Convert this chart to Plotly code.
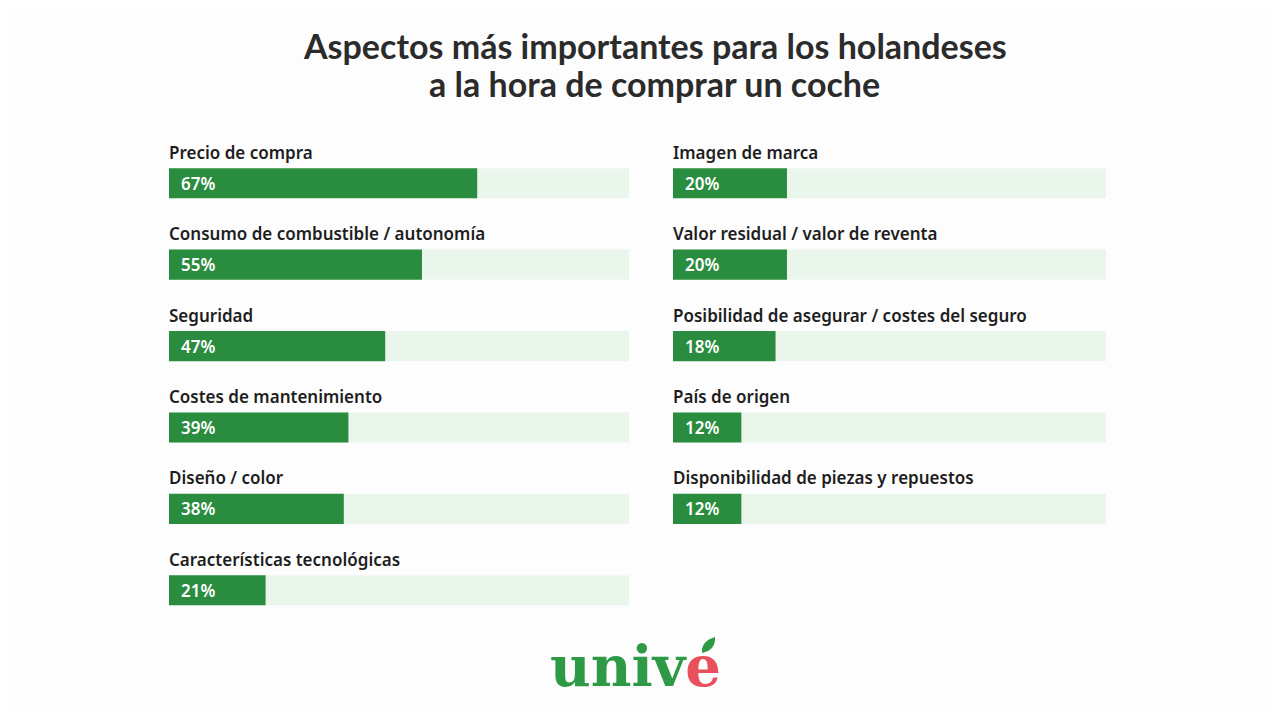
import plotly.graph_objects as go

# left column
left_labels = ["Precio de compra", "Consumo de combustible / autonomía", "Seguridad",
               "Costes de mantenimiento", "Diseño / color", "Características tecnológicas"]
left_values = [67, 55, 47, 39, 38, 21]

# right column
right_labels = ["Imagen de marca", "Valor residual / valor de reventa",
                "Posibilidad de asegurar / costes del seguro", "País de origen",
                "Disponibilidad de piezas y repuestos"]
right_values = [20, 20, 18, 12, 12]

title_lines = ["Aspectos más importantes para los holandeses", "a la hora de comprar un coche"]

GREEN = "#2a8c3f"
TRACK = "#eaf6ec"
left_max = 100
right_max = 76

# page has an 8px body margin, so the figure is a bit smaller than the window
W, H = 1264, 704
OFF = 8
T, B = 102, 81
plot_h = H - T - B


def px(screen_x):
    return (screen_x - OFF) / W


def py(screen_y):
    return (H - B - (screen_y - OFF)) / plot_h


fig = go.Figure()

left_rows = list(range(len(left_values)))
right_rows = list(range(len(right_values)))

# background tracks
fig.add_trace(go.Bar(x=[left_max] * len(left_rows), y=left_rows, orientation="h",
                     marker=dict(color=TRACK, line=dict(width=0)), width=0.37,
                     xaxis="x", yaxis="y", hoverinfo="skip", showlegend=False))
fig.add_trace(go.Bar(x=[right_max] * len(right_rows), y=right_rows, orientation="h",
                     marker=dict(color=TRACK, line=dict(width=0)), width=0.37,
                     xaxis="x2", yaxis="y", hoverinfo="skip", showlegend=False))
# values
fig.add_trace(go.Bar(x=left_values, y=left_rows, orientation="h",
                     marker=dict(color=GREEN, line=dict(width=0)), width=0.37,
                     xaxis="x", yaxis="y", showlegend=False))
fig.add_trace(go.Bar(x=right_values, y=right_rows, orientation="h",
                     marker=dict(color=GREEN, line=dict(width=0)), width=0.37,
                     xaxis="x2", yaxis="y", showlegend=False))

annotations = []
for xa, labels, values in [("x", left_labels, left_values), ("x2", right_labels, right_values)]:
    for i, (lab, v) in enumerate(zip(labels, values)):
        annotations.append(dict(x=0, y=i - 0.38, xref=xa, yref="y", text=lab, xshift=-2,
                                xanchor="left", yanchor="middle", showarrow=False,
                                font=dict(family="Noto Sans", size=17, color="#1e1e1e", weight=600)))
        annotations.append(dict(x=0, y=i, xref=xa, yref="y", text=f"{v}%", xshift=10,
                                xanchor="left", yanchor="middle", showarrow=False,
                                font=dict(family="Noto Sans", size=17, color="white", weight=600)))

for line, sy in zip(title_lines, [45, 84]):
    annotations.append(dict(x=px(655), y=py(sy), xref="paper", yref="paper", text=line,
                            showarrow=False, xanchor="center", yanchor="middle",
                            font=dict(family="Lato", size=34, color="#2b2b2b", weight="bold")))

annotations.append(dict(x=px(635), y=py(666), xref="paper", yref="paper",
                        text="<span style='color:#2f9a45'>univ</span><span style='color:#e8505b'>e</span>",
                        showarrow=False, xanchor="center", yanchor="middle",
                        font=dict(family="DejaVu Serif", size=56, weight="bold")))

# leaf accent on the e
leaf = dict(type="path", xref="paper", yref="paper", fillcolor="#2f9a45", line=dict(width=0),
            path=(f"M {px(702)} {py(653)} Q {px(701)} {py(641)} {px(715)} {py(637)} "
                  f"Q {px(716)} {py(650)} {px(702)} {py(653)} Z"))

layout = go.Layout(
    width=W, height=H,
    margin=dict(l=0, r=0, t=T, b=B),
    barmode="overlay",
    paper_bgcolor="#fdfdfd", plot_bgcolor="rgba(0,0,0,0)",
    xaxis=dict(domain=[px(169), px(629)], range=[0, left_max], visible=False, fixedrange=True),
    xaxis2=dict(domain=[px(673), px(1106)], range=[0, right_max], visible=False, fixedrange=True),
    yaxis=dict(range=[5.5, -0.9], visible=False, fixedrange=True),
    annotations=annotations,
    shapes=[leaf],
)
fig.update_layout(layout)
fig.write_html("out.html")
